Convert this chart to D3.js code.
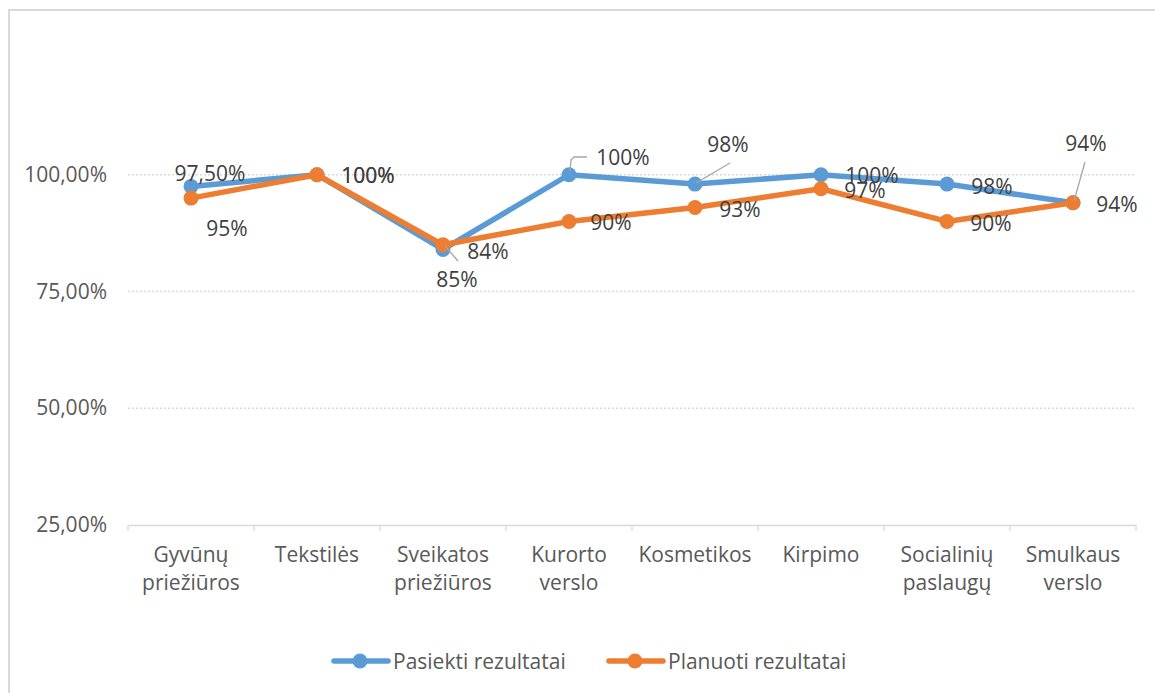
<!DOCTYPE html>
<html>
<head>
<meta charset="utf-8">
<script src="https://cdnjs.cloudflare.com/ajax/libs/d3/7.8.5/d3.min.js"></script>
<style>
  body { margin: 0; background: #fff; }
  svg { display: block; font-family: "Open Sans", "Noto Sans", sans-serif; }
</style>
</head>
<body>
<svg id="graph" width="1155" height="693"></svg>
<script>
// chart data
var categories = [
    ["Gyvūnų", "priežiūros"],
    ["Tekstilės"],
    ["Sveikatos", "priežiūros"],
    ["Kurorto", "verslo"],
    ["Kosmetikos"],
    ["Kirpimo"],
    ["Socialinių", "paslaugų"],
    ["Smulkaus", "verslo"]
];
var pasiekti = [97.5, 100, 84, 100, 98, 100, 98, 94];
var planuoti = [95, 100, 85, 90, 93, 97, 90, 94];
var pasiektiLabels = ["97,50%", "100%", "84%", "100%", "98%", "100%", "98%", "94%"];
var planuotiLabels = ["95%", "100%", "85%", "90%", "93%", "97%", "90%", "94%"];
var yTicks = [25, 50, 75, 100];
var seriesNames = ["Pasiekti rezultatai", "Planuoti rezultatai"];

// label placement: offset of label centre from its point, and leader lines
var blueOff = [[19, -13], [51, 1], [45, 2], [54, -17], [33, -40], [51, 1], [45, 2], [13, -59]];
var orangeOff = [[36, 30], [51, 1], [14, 35], [42, 1], [45, 2], [44, 2], [44, 2], [44, 2]];
var blueLeader = [null, null, null, [[570, 171], [571, 160], [574, 157], [587, 157]], [[696, 183], [730, 163]], null, null, [[1074, 201], [1085, 162]]];
var orangeLeader = [null, null, [[445, 246], [458, 261]], null, null, null, null, null];

var blue = "#5B9BD5", orange = "#ED7D31";
var svg = d3.select("#graph");

// outer chart border
svg.append("rect")
    .attr("x", 9).attr("y", 10)
    .attr("width", 1200).attr("height", 800)
    .attr("fill", "none")
    .attr("stroke", "#d9d9d9")
    .attr("stroke-width", 2);

var mLeft = 128, mRight = 1136, mTop = 58, mBottom = 525;

var x = d3.scaleBand()
    .domain(d3.range(categories.length))
    .range([mLeft, mRight]);
var y = d3.scaleLinear()
    .domain([25, 125])
    .range([mBottom, mTop]);

// gridlines
svg.selectAll("line.grid")
    .data(yTicks.filter(function(d) { return d > 25; }))
    .enter()
    .append("line")
    .attr("x1", mLeft).attr("x2", mRight)
    .attr("y1", function(d) { return y(d); })
    .attr("y2", function(d) { return y(d); })
    .attr("stroke", "#d9d9d9")
    .attr("stroke-width", 1.3)
    .attr("stroke-dasharray", "2,2");

// y labels
svg.selectAll("text.ytick")
    .data(yTicks)
    .enter()
    .append("text")
    .attr("x", 107)
    .attr("y", function(d) { return y(d) + 7; })
    .attr("text-anchor", "end")
    .attr("font-size", 21)
    .attr("fill", "#595959")
    .text(function(d) { return d3.format(".2f")(d).replace(".", ",") + "%"; });

// x axis
var xAxis = d3.axisBottom(x).tickSize(0).tickFormat("");
svg.append("g")
    .attr("transform", "translate(0," + mBottom + ")")
    .call(xAxis)
    .call(function(g) { g.select(".domain").attr("stroke", "#d9d9d9").attr("stroke-width", 1.3); });

svg.selectAll("line.xtick")
    .data(d3.range(categories.length + 1))
    .enter()
    .append("line")
    .attr("x1", function(i) { return mLeft + i * x.bandwidth(); })
    .attr("x2", function(i) { return mLeft + i * x.bandwidth(); })
    .attr("y1", mBottom).attr("y2", mBottom + 6)
    .attr("stroke", "#d9d9d9")
    .attr("stroke-width", 1.3);

var catText = svg.selectAll("text.cat")
    .data(categories)
    .enter()
    .append("text")
    .attr("text-anchor", "middle")
    .attr("font-size", 21)
    .attr("fill", "#595959");
catText.selectAll("tspan")
    .data(function(d, i) { return d.map(function(s) { return [s, i]; }); })
    .enter()
    .append("tspan")
    .attr("x", function(d) { return x(d[1]) + x.bandwidth() / 2; })
    .attr("y", function(d, j) { return 562 + j * 28; })
    .text(function(d) { return d[0]; });

function cx(i) { return x(i) + x.bandwidth() / 2; }

var line = d3.line()
    .x(function(d, i) { return cx(i); })
    .y(function(d) { return y(d); });

function drawSeries(vals, color) {
    svg.append("path")
        .datum(vals)
        .attr("d", line)
        .attr("fill", "none")
        .attr("stroke", color)
        .attr("stroke-width", 5.5)
        .attr("stroke-linejoin", "round")
        .attr("stroke-linecap", "round");
    svg.append("g").selectAll("circle")
        .data(vals)
        .enter()
        .append("circle")
        .attr("cx", function(d, i) { return cx(i); })
        .attr("cy", function(d) { return y(d); })
        .attr("r", 7.5)
        .attr("fill", color);
}
drawSeries(pasiekti, blue);
drawSeries(planuoti, orange);

// leader lines
var leaderLine = d3.line();
blueLeader.concat(orangeLeader).forEach(function(pts) {
    if (!pts) return;
    svg.append("path")
        .attr("d", leaderLine(pts))
        .attr("fill", "none")
        .attr("stroke", "#a6a6a6")
        .attr("stroke-width", 1.3);
});

function drawLabels(vals, labels, off) {
    svg.append("g").selectAll("text")
        .data(vals)
        .enter()
        .append("text")
        .attr("x", function(d, i) { return cx(i) + off[i][0]; })
        .attr("y", function(d, i) { return y(d) + off[i][1] + 7.5; })
        .attr("text-anchor", "middle")
        .attr("font-size", 21)
        .attr("fill", "#404040")
        .text(function(d, i) { return labels[i]; });
}
drawLabels(pasiekti, pasiektiLabels, blueOff);
drawLabels(planuoti, planuotiLabels, orangeOff);

// legend
var legend = svg.append("g");
[[334, blue], [609, orange]].forEach(function(l, i) {
    var g = legend.append("g").attr("transform", "translate(" + l[0] + ",661)");
    g.append("line").attr("x1", 0).attr("x2", 54).attr("y1", 0).attr("y2", 0)
        .attr("stroke", l[1]).attr("stroke-width", 5.5).attr("stroke-linecap", "round");
    g.append("circle").attr("cx", 26).attr("cy", 0).attr("r", 7.5).attr("fill", l[1]);
    g.append("text").attr("x", 59).attr("y", 7.5)
        .attr("font-size", 21).attr("fill", "#595959")
        .text(seriesNames[i]);
});
</script>
</body>
</html>
